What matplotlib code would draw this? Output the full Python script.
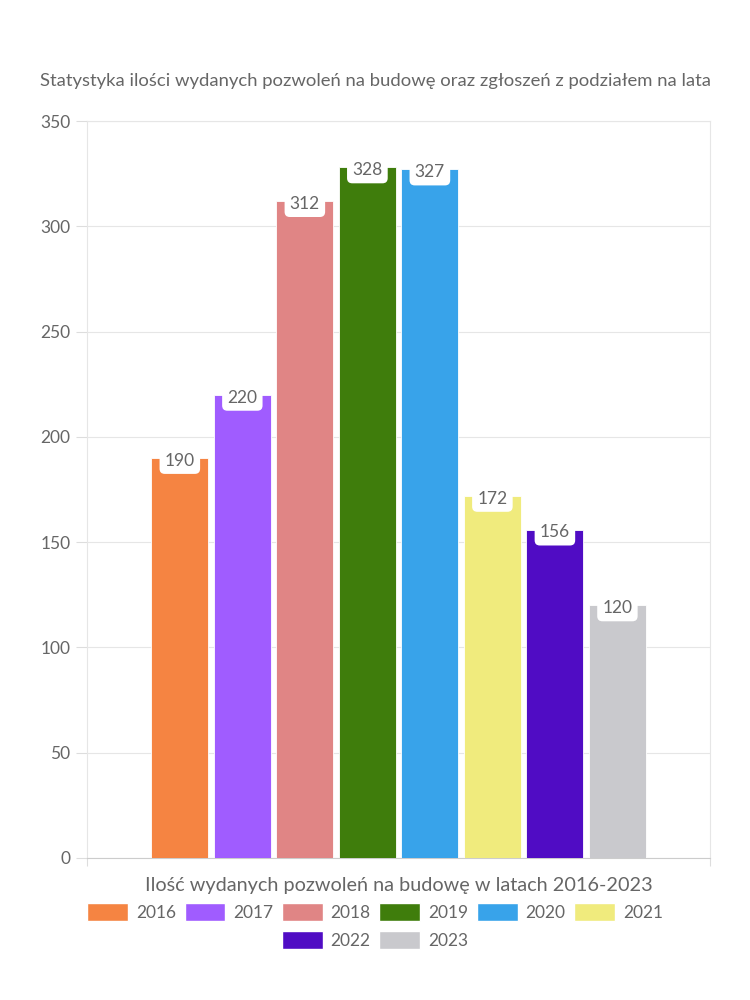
import numpy as np
import matplotlib
matplotlib.use('Agg')
import matplotlib.pyplot as plt
from matplotlib.patches import Patch

# Dane
lata = ['2016', '2017', '2018', '2019', '2020', '2021', '2022', '2023']
wartosci = [190, 220, 312, 328, 327, 172, 156, 120]
kolory = ['#F58442', '#A05CFF', '#E08585', '#3F7D0C', '#38A3EA', '#F0EB7D', '#500CC4', '#C9C9CD']
y_ticks = [0, 50, 100, 150, 200, 250, 300, 350]

tytul = 'Statystyka ilości wydanych pozwoleń na budowę oraz zgłoszeń z podziałem na lata'
opis_x = 'Ilość wydanych pozwoleń na budowę w latach 2016-2023'

plt.rcParams['font.family'] = ['Lato', 'DejaVu Sans']
szary = '#666666'

fig = plt.figure(figsize=(7.5, 10), dpi=100)
ax = fig.add_axes([0.116, 0.142, 0.831, 0.737])

n = len(lata)
pozycje = np.arange(n) - (n - 1) / 2
ax.bar(pozycje, wartosci, width=0.91, color=kolory, edgecolor='white', linewidth=0.6, zorder=3)

for x, v in zip(pozycje, wartosci):
    ax.annotate(str(v), xy=(x, v), xytext=(0, -2), textcoords='offset points',
                ha='center', va='center', fontsize=12.5, color=szary, zorder=4,
                bbox=dict(boxstyle='round,pad=0.3,rounding_size=0.3', fc='white', ec='none'))

ax.set_xlim(-4.985, 4.985)
ax.set_ylim(0, 350)
ax.set_yticks(y_ticks)
ax.set_yticklabels([str(t) for t in y_ticks], fontsize=12.5, color=szary)
ax.set_xticks([-4.985, 4.985])
ax.set_xticklabels(['', ''])
ax.tick_params(axis='y', length=8, color='#dddddd', pad=4)
ax.tick_params(axis='x', length=6, color='#dddddd')
ax.grid(axis='y', color='#e6e6e6', linewidth=0.8, zorder=0)
for s in ['left', 'right', 'top']:
    ax.spines[s].set_color('#e6e6e6')
ax.spines['bottom'].set_color('#cccccc')

ax.set_xlabel(opis_x, fontsize=14.3, color=szary, labelpad=4)
fig.text(0.5, 0.919, tytul, ha='center', va='center', fontsize=13.3, color=szary)

# Legenda w dwóch rzędach (drugi wyśrodkowany)
uchwyty = [Patch(facecolor=k, edgecolor='white') for k in kolory]
kw = dict(frameon=False, fontsize=12.5, handlelength=2.35, handleheight=1.2,
          handletextpad=0.45, columnspacing=0.5, labelcolor=szary)
leg1 = fig.legend(uchwyty[:6], lata[:6], ncol=6, loc='center', bbox_to_anchor=(0.5, 0.088), **kw)
leg2 = fig.legend(uchwyty[6:], lata[6:], ncol=2, loc='center', bbox_to_anchor=(0.5, 0.060), **kw)

fig.savefig('out.png', dpi=100, facecolor='white')
